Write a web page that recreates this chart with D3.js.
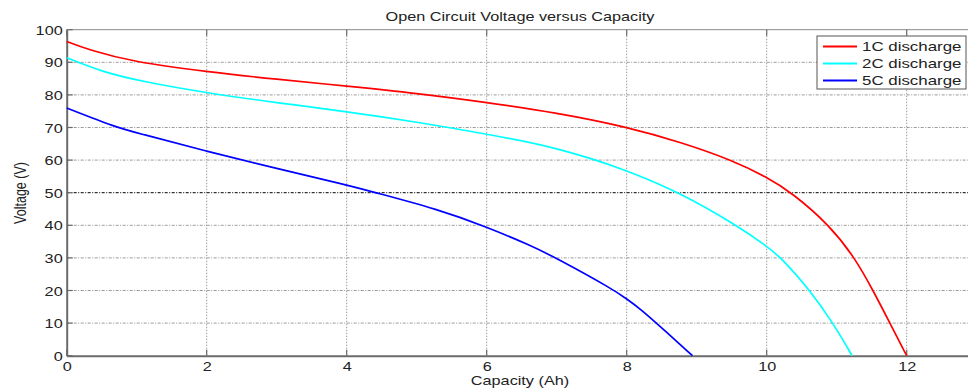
<!DOCTYPE html>
<html>
<head>
<meta charset="utf-8">
<script src="https://cdn.jsdelivr.net/npm/d3@7"></script>
<style>
  html, body { margin: 0; padding: 0; background: #fff; }
  svg { display: block; font-family: Arial, "Liberation Sans", sans-serif; }
</style>
</head>
<body>
<svg id="chart" width="968" height="390"></svg>
<script>
// Open circuit voltage vs. delivered capacity at three discharge rates
const cap1C = [0, 0.3, 0.95, 2, 3, 4, 5, 6, 7, 8, 8.8, 9.5, 10, 10.36, 10.9, 11.26, 11.52, 11.76, 12];
const volt1C = [96.4, 93.9, 90.1, 87.1, 84.8, 82.7, 80.5, 77.7, 74.5, 70.2, 65.3, 60, 54.8, 50, 40, 30, 20, 10, 0];

const cap2C = [0, 0.5, 1.1, 2, 3, 4, 5, 6, 7, 8, 8.76, 9.57, 10, 10.21, 10.62, 10.95, 11.22];
const volt2C = [91.4, 87.1, 84, 80.6, 77.6, 74.9, 71.7, 68, 63.9, 57, 50, 40, 33.6, 30, 20, 10, 0];

const cap5C = [0, 0.71, 1, 2, 3, 4, 4.38, 5.29, 6, 6.62, 7, 7.81, 8, 8.19, 8.57, 8.94];
const volt5C = [76, 70, 68.4, 62.7, 57.4, 52.4, 50.2, 45, 39.5, 33.9, 29.9, 20.3, 17.4, 14.5, 7.2, 0];

const seriesNames = ["1C discharge", "2C discharge", "5C discharge"];
const seriesColors = ["#ff0000", "#00ffff", "#0000ff"];

const xTicks = [0, 2, 4, 6, 8, 10, 12];
const yTicks = [0, 10, 20, 30, 40, 50, 60, 70, 80, 90, 100];
const referenceVoltage = 50;

const titleText = "Open Circuit Voltage versus Capacity";
const xLabel = "Capacity (Ah)";
const yLabel = "Voltage (V)";

const series = [
  { name: seriesNames[0], color: seriesColors[0], pts: cap1C.map((c, i) => [c, volt1C[i]]) },
  { name: seriesNames[1], color: seriesColors[1], pts: cap2C.map((c, i) => [c, volt2C[i]]) },
  { name: seriesNames[2], color: seriesColors[2], pts: cap5C.map((c, i) => [c, volt5C[i]]) }
];

const svg = d3.select("#chart");
const W = 968;
const plotLeft = 66.7, plotTop = 29.7, plotBottom = 355.7;
const stretch = 1.3;   // wide lettering, glyphs drawn broader than tall

// Axes run to capacity 13; the right edge of the frame falls outside the view
const x = d3.scaleLinear().domain([0, 13]).range([plotLeft, plotLeft + 13 * 70]);
const y = d3.scaleLinear().domain([0, 100]).range([plotBottom, plotTop]);

const gridColor = "#9a9a9a";
const axisColor = "#6b6b6b";
const textColor = "#222";

// Grid
const grid = svg.append("g");
grid.selectAll("line.gx").data(xTicks.filter(d => d > 0)).join("line")
  .attr("x1", d => x(d)).attr("x2", d => x(d))
  .attr("y1", plotTop).attr("y2", plotBottom)
  .attr("stroke", gridColor).attr("stroke-width", 1)
  .attr("stroke-dasharray", "1.5,1.5");
grid.selectAll("line.gy").data(yTicks.filter(d => d > 0 && d < 100 && d !== referenceVoltage)).join("line")
  .attr("x1", plotLeft).attr("x2", W)
  .attr("y1", d => y(d)).attr("y2", d => y(d))
  .attr("stroke", gridColor).attr("stroke-width", 1)
  .attr("stroke-dasharray", "3,1.5,1,1.5");

// Reference line at 50 V
svg.append("line")
  .attr("x1", plotLeft).attr("x2", W)
  .attr("y1", y(referenceVoltage)).attr("y2", y(referenceVoltage))
  .attr("stroke", "#000").attr("stroke-width", 1)
  .attr("stroke-dasharray", "3,1.5,1,1.5");

// Frame: top border, left and bottom axes
svg.append("line").attr("x1", plotLeft).attr("x2", W).attr("y1", plotTop).attr("y2", plotTop)
  .attr("stroke", "#888").attr("stroke-width", 1);

const xAxis = d3.axisBottom(x).tickValues(xTicks).tickSize(0).tickFormat(d3.format("d"));
const gx = svg.append("g").attr("transform", `translate(0,${plotBottom})`).call(xAxis);
gx.select(".domain").attr("stroke", axisColor).attr("stroke-width", 2);
gx.selectAll("text")
  .attr("x", 0).attr("y", 0).attr("dy", null)
  .attr("transform", `translate(0,14.8) scale(${stretch},1)`)
  .attr("fill", textColor).attr("font-size", 12.5)
  .attr("font-family", "Arial, 'Liberation Sans', sans-serif");

const yAxis = d3.axisLeft(y).tickValues(yTicks).tickSize(0).tickFormat(d3.format("d"));
const gy = svg.append("g").attr("transform", `translate(${plotLeft},0)`).call(yAxis);
gy.select(".domain").attr("stroke", axisColor).attr("stroke-width", 2);
gy.selectAll("text")
  .attr("x", 0).attr("dy", "0.36em")
  .attr("transform", `translate(-4,0) scale(${stretch},1)`)
  .attr("fill", textColor).attr("font-size", 12.5)
  .attr("font-family", "Arial, 'Liberation Sans', sans-serif");

// Inward tick marks on bottom and top edges, and on the left edge
const tk = svg.append("g").attr("stroke", axisColor).attr("stroke-width", 1.2);
tk.selectAll("line.tb").data(xTicks).join("line")
  .attr("x1", d => x(d)).attr("x2", d => x(d)).attr("y1", plotBottom).attr("y2", plotBottom - 6);
tk.selectAll("line.tt").data(xTicks).join("line")
  .attr("x1", d => x(d)).attr("x2", d => x(d)).attr("y1", plotTop).attr("y2", plotTop + 6);
tk.selectAll("line.tl").data(yTicks).join("line")
  .attr("x1", plotLeft).attr("x2", plotLeft + 6).attr("y1", d => y(d)).attr("y2", d => y(d));

// Curves, smoothed through the sampled readings
const line = d3.line().x(d => x(d[0])).y(d => y(d[1])).curve(d3.curveBasis);
svg.append("g").selectAll("path").data(series).join("path")
  .attr("d", d => line(d.pts))
  .attr("fill", "none")
  .attr("stroke", d => d.color)
  .attr("stroke-width", 1.7)
  .attr("stroke-linejoin", "round");

// Title and axis labels
function wideText(px, py, str, size, rotate) {
  return svg.append("text")
    .attr("transform", `translate(${px},${py}) scale(${stretch},1)` + (rotate ? ` rotate(${rotate})` : ""))
    .attr("text-anchor", "middle").attr("font-size", size).attr("fill", textColor).text(str);
}
wideText(520, 20.5, titleText, 12.5);
wideText(520, 385, xLabel, 12.5);
wideText(25.5, 193, yLabel, 12.5, -90);

// Legend
const lg = svg.append("g").attr("transform", "translate(817,36)");
lg.append("rect").attr("x", 0).attr("y", 0).attr("width", 149).attr("height", 53)
  .attr("fill", "#fff").attr("stroke", "#555").attr("stroke-width", 1);
const rows = lg.selectAll("g.row").data(series).join("g")
  .attr("transform", (d, i) => `translate(0,${10.5 + i * 17})`);
rows.append("line").attr("x1", 6).attr("x2", 40).attr("y1", 0).attr("y2", 0)
  .attr("stroke", d => d.color).attr("stroke-width", 2);
rows.append("text").attr("transform", `translate(45,0) scale(${stretch},1)`)
  .attr("dy", "0.36em").attr("font-size", 13).attr("fill", textColor).text(d => d.name);
</script>
</body>
</html>
